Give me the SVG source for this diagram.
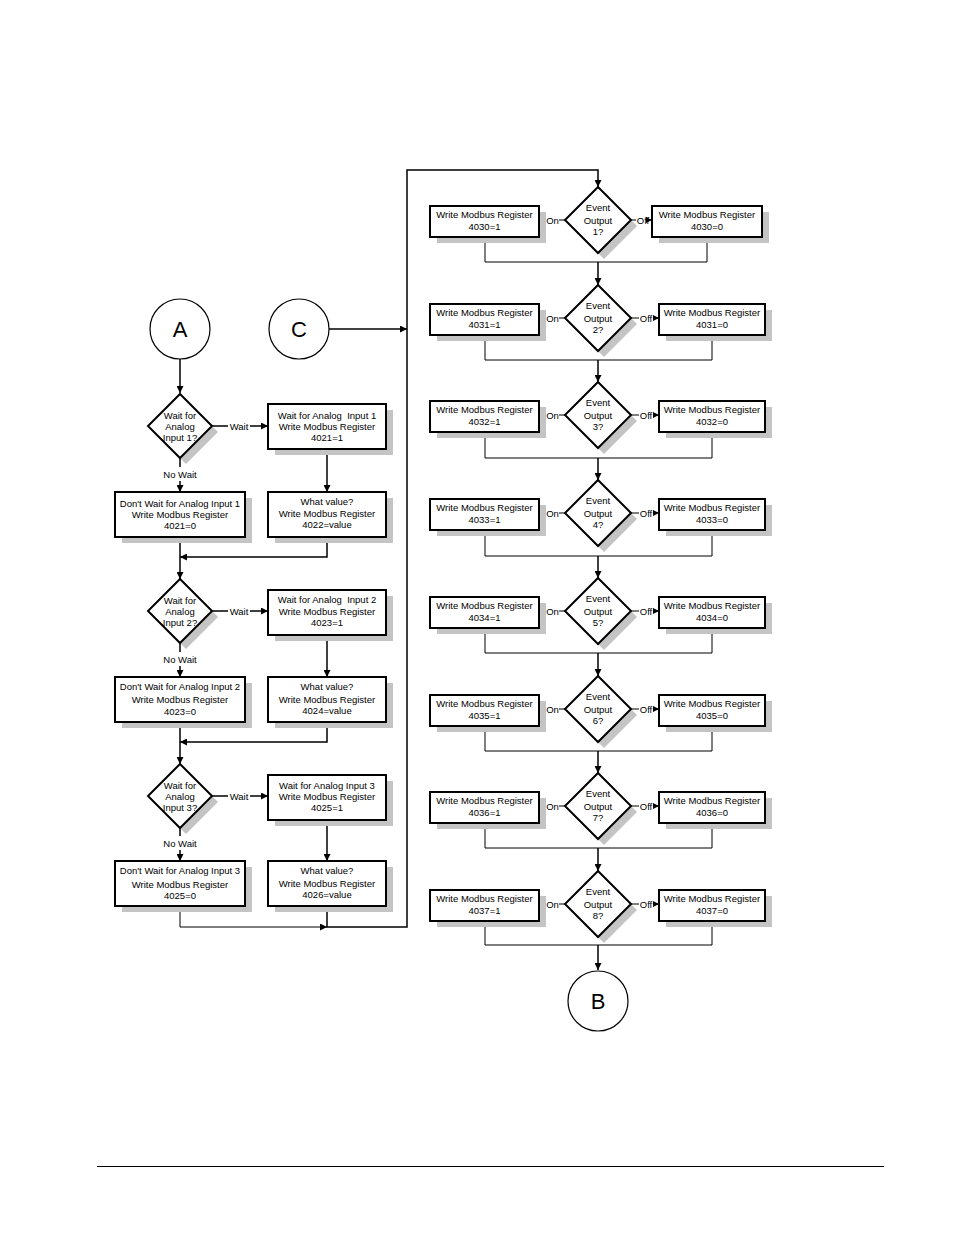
<svg xmlns="http://www.w3.org/2000/svg" width="954" height="1235" viewBox="0 0 954 1235">
<style>
text{font-family:"Liberation Sans",Arial,sans-serif;font-size:9.5px;fill:#000;text-anchor:middle}
.big{font-size:22px}
.lbl{font-size:9.5px}
.box{fill:#fff;stroke:#000;stroke-width:2}
.sh{fill:#c4c4c4;stroke:none}
.circ{fill:#fff;stroke:#000;stroke-width:1.2}
.ln{fill:none;stroke:#000;stroke-width:1.5}
.thin{fill:none;stroke:#000;stroke-width:1}
</style>
<defs>
<marker id="ah" viewBox="0 0 10 10" refX="10" refY="5" markerWidth="7" markerHeight="7" orient="auto" markerUnits="userSpaceOnUse"><path d="M0,0 L10,5 L0,10 z" fill="#000"/></marker>
<marker id="as" viewBox="0 0 10 10" refX="10" refY="5" markerWidth="6" markerHeight="6" orient="auto" markerUnits="userSpaceOnUse"><path d="M0,0 L10,5 L0,10 z" fill="#000"/></marker>
</defs>
<rect width="954" height="1235" fill="#fff"/>

<g id="connectors">
<!-- left column -->
<line class="ln" x1="180" y1="359" x2="180" y2="393" marker-end="url(#ah)"/>
<line class="ln" x1="329" y1="329" x2="407" y2="329" marker-end="url(#ah)"/>
<!-- row 1 -->
<line class="ln" x1="212" y1="426" x2="228" y2="426"/>
<line class="ln" x1="250" y1="426" x2="268" y2="426" marker-end="url(#ah)"/>
<line class="ln" x1="327" y1="449" x2="327" y2="492" marker-end="url(#ah)"/>
<line class="ln" x1="180" y1="458" x2="180" y2="467"/>
<line class="ln" x1="180" y1="481" x2="180" y2="492" marker-end="url(#ah)"/>
<line class="ln" x1="180" y1="537" x2="180" y2="579" marker-end="url(#ah)"/>
<polyline class="ln" points="327,537 327,557 180,557" marker-end="url(#ah)"/>
<!-- row 2 -->
<line class="ln" x1="212" y1="611" x2="228" y2="611"/>
<line class="ln" x1="250" y1="611" x2="268" y2="611" marker-end="url(#ah)"/>
<line class="ln" x1="327" y1="635" x2="327" y2="677" marker-end="url(#ah)"/>
<line class="ln" x1="180" y1="643" x2="180" y2="652"/>
<line class="ln" x1="180" y1="666" x2="180" y2="677" marker-end="url(#ah)"/>
<line class="ln" x1="180" y1="722" x2="180" y2="764" marker-end="url(#ah)"/>
<polyline class="ln" points="327,722 327,742 180,742" marker-end="url(#ah)"/>
<!-- row 3 -->
<line class="ln" x1="212" y1="796" x2="228" y2="796"/>
<line class="ln" x1="250" y1="796" x2="268" y2="796" marker-end="url(#ah)"/>
<line class="ln" x1="327" y1="820" x2="327" y2="861" marker-end="url(#ah)"/>
<line class="ln" x1="180" y1="828" x2="180" y2="836"/>
<line class="ln" x1="180" y1="850" x2="180" y2="861" marker-end="url(#ah)"/>
<polyline class="thin" points="180,906 180,927 327,927" marker-end="url(#ah)"/>
<polyline class="ln" points="327,906 327,927 407,927 407,170 598,170 598,187" marker-end="url(#ah)"/>

<!-- right column: On / Off arrows -->
<g id="r1c">
<line class="thin" x1="565" y1="220" x2="559" y2="220"/>
<line class="thin" x1="546" y1="220" x2="540" y2="220" marker-end="url(#as)"/>
<line class="thin" x1="631" y1="220" x2="636" y2="220"/>
<line class="thin" x1="647" y1="220" x2="652" y2="220" marker-end="url(#as)"/>
<polyline class="thin" points="485,237 485,262 707,262 707,237"/>
<line class="ln" x1="598" y1="262" x2="598" y2="285" marker-end="url(#ah)"/>
</g>
<g id="r2c">
<line class="thin" x1="565" y1="318" x2="559" y2="318"/>
<line class="thin" x1="546" y1="318" x2="540" y2="318" marker-end="url(#as)"/>
<line class="thin" x1="631" y1="318" x2="639" y2="318"/>
<line class="thin" x1="653" y1="318" x2="659" y2="318" marker-end="url(#as)"/>
<polyline class="thin" points="485,335 485,360 712,360 712,335"/>
<line class="ln" x1="598" y1="360" x2="598" y2="382" marker-end="url(#ah)"/>
</g>
<g id="r3c">
<line class="thin" x1="565" y1="415" x2="559" y2="415"/>
<line class="thin" x1="546" y1="415" x2="540" y2="415" marker-end="url(#as)"/>
<line class="thin" x1="631" y1="415" x2="639" y2="415"/>
<line class="thin" x1="653" y1="415" x2="659" y2="415" marker-end="url(#as)"/>
<polyline class="thin" points="485,432 485,458 712,458 712,432"/>
<line class="ln" x1="598" y1="458" x2="598" y2="480" marker-end="url(#ah)"/>
</g>
<g id="r4c">
<line class="thin" x1="565" y1="513" x2="559" y2="513"/>
<line class="thin" x1="546" y1="513" x2="540" y2="513" marker-end="url(#as)"/>
<line class="thin" x1="631" y1="513" x2="639" y2="513"/>
<line class="thin" x1="653" y1="513" x2="659" y2="513" marker-end="url(#as)"/>
<polyline class="thin" points="485,530 485,556 712,556 712,530"/>
<line class="ln" x1="598" y1="556" x2="598" y2="578" marker-end="url(#ah)"/>
</g>
<g id="r5c">
<line class="thin" x1="565" y1="611" x2="559" y2="611"/>
<line class="thin" x1="546" y1="611" x2="540" y2="611" marker-end="url(#as)"/>
<line class="thin" x1="631" y1="611" x2="639" y2="611"/>
<line class="thin" x1="653" y1="611" x2="659" y2="611" marker-end="url(#as)"/>
<polyline class="thin" points="485,628 485,653 712,653 712,628"/>
<line class="ln" x1="598" y1="653" x2="598" y2="676" marker-end="url(#ah)"/>
</g>
<g id="r6c">
<line class="thin" x1="565" y1="709" x2="559" y2="709"/>
<line class="thin" x1="546" y1="709" x2="540" y2="709" marker-end="url(#as)"/>
<line class="thin" x1="631" y1="709" x2="639" y2="709"/>
<line class="thin" x1="653" y1="709" x2="659" y2="709" marker-end="url(#as)"/>
<polyline class="thin" points="485,726 485,751 712,751 712,726"/>
<line class="ln" x1="598" y1="751" x2="598" y2="773" marker-end="url(#ah)"/>
</g>
<g id="r7c">
<line class="thin" x1="565" y1="806" x2="559" y2="806"/>
<line class="thin" x1="546" y1="806" x2="540" y2="806" marker-end="url(#as)"/>
<line class="thin" x1="631" y1="806" x2="639" y2="806"/>
<line class="thin" x1="653" y1="806" x2="659" y2="806" marker-end="url(#as)"/>
<polyline class="thin" points="485,823 485,848 712,848 712,823"/>
<line class="ln" x1="598" y1="848" x2="598" y2="871" marker-end="url(#ah)"/>
</g>
<g id="r8c">
<line class="thin" x1="565" y1="904" x2="559" y2="904"/>
<line class="thin" x1="546" y1="904" x2="540" y2="904" marker-end="url(#as)"/>
<line class="thin" x1="631" y1="904" x2="639" y2="904"/>
<line class="thin" x1="653" y1="904" x2="659" y2="904" marker-end="url(#as)"/>
<polyline class="thin" points="485,921 485,945 712,945 712,921"/>
<line class="ln" x1="598" y1="945" x2="598" y2="970" marker-end="url(#ah)"/>
</g>

<!-- labels -->
<text x="239" y="429.5">Wait</text>
<text x="239" y="614.5">Wait</text>
<text x="239" y="799.5">Wait</text>
<text x="180" y="477.5">No Wait</text>
<text x="180" y="662.5">No Wait</text>
<text x="180" y="846.5">No Wait</text>
<text x="552.5" y="223.5">On</text>
<text x="643" y="223.5">Off</text>
<text x="552.5" y="321.5">On</text>
<text x="646" y="321.5">Off</text>
<text x="552.5" y="418.5">On</text>
<text x="646" y="418.5">Off</text>
<text x="552.5" y="516.5">On</text>
<text x="646" y="516.5">Off</text>
<text x="552.5" y="614.5">On</text>
<text x="646" y="614.5">Off</text>
<text x="552.5" y="712.5">On</text>
<text x="646" y="712.5">Off</text>
<text x="552.5" y="809.5">On</text>
<text x="646" y="809.5">Off</text>
<text x="552.5" y="907.5">On</text>
<text x="646" y="907.5">Off</text>
</g>

<!-- terminals -->
<g id="nodeA"><circle class="circ" cx="180" cy="329" r="30"/><text class="big" x="180" y="337">A</text></g>
<g id="nodeC"><circle class="circ" cx="299" cy="329" r="30"/><text class="big" x="299" y="337">C</text></g>
<g id="nodeB"><circle class="circ" cx="598" cy="1001" r="30"/><text class="big" x="598" y="1009">B</text></g>

<!-- left column -->
<g id="dA1"><polygon class="sh" points="186,400 218,432 186,464 154,432"/><polygon class="box" points="180,394 212,426 180,458 148,426"/>
<text x="180" y="418.5">Wait for</text><text x="180" y="429.5">Analog</text><text x="180" y="440.5">Input 1?</text></g>
<g id="bW1"><rect class="sh" x="275" y="410" width="118" height="45"/><rect class="box" x="268" y="404" width="118" height="45"/>
<text x="327" y="418.5">Wait for Analog&#160; Input 1</text><text x="327" y="429.5">Write Modbus Register</text><text x="327" y="440.5">4021=1</text></g>
<g id="bV1"><rect class="sh" x="275" y="498" width="118" height="45"/><rect class="box" x="268" y="492" width="118" height="45"/>
<text x="327" y="504.5">What value?</text><text x="327" y="516.5">Write Modbus Register</text><text x="327" y="527.5">4022=value</text></g>
<g id="bD1"><rect class="sh" x="122" y="498" width="130" height="45"/><rect class="box" x="115" y="492" width="130" height="45"/>
<text x="180" y="506.5">Don't Wait for Analog Input 1</text><text x="180" y="517.5">Write Modbus Register</text><text x="180" y="528.5">4021=0</text></g>

<g id="dA2"><polygon class="sh" points="186,585 218,617 186,649 154,617"/><polygon class="box" points="180,579 212,611 180,643 148,611"/>
<text x="180" y="603.5">Wait for</text><text x="180" y="614.5">Analog</text><text x="180" y="625.5">Input 2?</text></g>
<g id="bW2"><rect class="sh" x="275" y="596" width="118" height="45"/><rect class="box" x="268" y="590" width="118" height="45"/>
<text x="327" y="602.5">Wait for Analog&#160; Input 2</text><text x="327" y="614.5">Write Modbus Register</text><text x="327" y="625.5">4023=1</text></g>
<g id="bV2"><rect class="sh" x="275" y="683" width="118" height="45"/><rect class="box" x="268" y="677" width="118" height="45"/>
<text x="327" y="689.5">What value?</text><text x="327" y="702.5">Write Modbus Register</text><text x="327" y="713.5">4024=value</text></g>
<g id="bD2"><rect class="sh" x="122" y="683" width="130" height="45"/><rect class="box" x="115" y="677" width="130" height="45"/>
<text x="180" y="689.5">Don't Wait for Analog Input 2</text><text x="180" y="702.5">Write Modbus Register</text><text x="180" y="714.5">4023=0</text></g>

<g id="dA3"><polygon class="sh" points="186,770 218,802 186,834 154,802"/><polygon class="box" points="180,764 212,796 180,828 148,796"/>
<text x="180" y="788.5">Wait for</text><text x="180" y="799.5">Analog</text><text x="180" y="810.5">Input 3?</text></g>
<g id="bW3"><rect class="sh" x="275" y="781" width="118" height="45"/><rect class="box" x="268" y="775" width="118" height="45"/>
<text x="327" y="788.5">Wait for Analog Input 3</text><text x="327" y="799.5">Write Modbus Register</text><text x="327" y="810.5">4025=1</text></g>
<g id="bV3"><rect class="sh" x="275" y="867" width="118" height="45"/><rect class="box" x="268" y="861" width="118" height="45"/>
<text x="327" y="873.5">What value?</text><text x="327" y="886.5">Write Modbus Register</text><text x="327" y="897.5">4026=value</text></g>
<g id="bD3"><rect class="sh" x="122" y="867" width="130" height="45"/><rect class="box" x="115" y="861" width="130" height="45"/>
<text x="180" y="873.5">Don't Wait for Analog Input 3</text><text x="180" y="887.5">Write Modbus Register</text><text x="180" y="898.5">4025=0</text></g>

<!-- right column -->
<g id="row1">
<g id="dE1"><polygon class="sh" points="604,193 637,226 604,259 571,226"/><polygon class="box" points="598,187 631,220 598,253 565,220"/>
<text x="598" y="211">Event</text><text x="598" y="223.5">Output</text><text x="598" y="234.5">1?</text></g>
<g id="bOn1"><rect class="sh" x="437" y="212" width="109" height="31"/><rect class="box" x="430" y="206" width="109" height="31"/>
<text x="484.5" y="217.5">Write Modbus Register</text><text x="484.5" y="229.5">4030=1</text></g>
<g id="bOff1"><rect class="sh" x="659" y="212" width="110" height="31"/><rect class="box" x="652" y="206" width="110" height="31"/>
<text x="707" y="217.5">Write Modbus Register</text><text x="707" y="229.5">4030=0</text></g>
</g>
<g id="row2">
<g id="dE2"><polygon class="sh" points="604,291 637,324 604,357 571,324"/><polygon class="box" points="598,285 631,318 598,351 565,318"/>
<text x="598" y="309">Event</text><text x="598" y="321.5">Output</text><text x="598" y="332.5">2?</text></g>
<g id="bOn2"><rect class="sh" x="437" y="310" width="109" height="31"/><rect class="box" x="430" y="304" width="109" height="31"/>
<text x="484.5" y="315.5">Write Modbus Register</text><text x="484.5" y="327.5">4031=1</text></g>
<g id="bOff2"><rect class="sh" x="666" y="310" width="106" height="31"/><rect class="box" x="659" y="304" width="106" height="31"/>
<text x="712" y="315.5">Write Modbus Register</text><text x="712" y="327.5">4031=0</text></g>
</g>
<g id="row3">
<g id="dE3"><polygon class="sh" points="604,388 637,421 604,454 571,421"/><polygon class="box" points="598,382 631,415 598,448 565,415"/>
<text x="598" y="406">Event</text><text x="598" y="418.5">Output</text><text x="598" y="429.5">3?</text></g>
<g id="bOn3"><rect class="sh" x="437" y="407" width="109" height="31"/><rect class="box" x="430" y="401" width="109" height="31"/>
<text x="484.5" y="412.5">Write Modbus Register</text><text x="484.5" y="424.5">4032=1</text></g>
<g id="bOff3"><rect class="sh" x="666" y="407" width="106" height="31"/><rect class="box" x="659" y="401" width="106" height="31"/>
<text x="712" y="412.5">Write Modbus Register</text><text x="712" y="424.5">4032=0</text></g>
</g>
<g id="row4">
<g id="dE4"><polygon class="sh" points="604,486 637,519 604,552 571,519"/><polygon class="box" points="598,480 631,513 598,546 565,513"/>
<text x="598" y="504">Event</text><text x="598" y="516.5">Output</text><text x="598" y="527.5">4?</text></g>
<g id="bOn4"><rect class="sh" x="437" y="505" width="109" height="31"/><rect class="box" x="430" y="499" width="109" height="31"/>
<text x="484.5" y="510.5">Write Modbus Register</text><text x="484.5" y="522.5">4033=1</text></g>
<g id="bOff4"><rect class="sh" x="666" y="505" width="106" height="31"/><rect class="box" x="659" y="499" width="106" height="31"/>
<text x="712" y="510.5">Write Modbus Register</text><text x="712" y="522.5">4033=0</text></g>
</g>
<g id="row5">
<g id="dE5"><polygon class="sh" points="604,584 637,617 604,650 571,617"/><polygon class="box" points="598,578 631,611 598,644 565,611"/>
<text x="598" y="602">Event</text><text x="598" y="614.5">Output</text><text x="598" y="625.5">5?</text></g>
<g id="bOn5"><rect class="sh" x="437" y="603" width="109" height="31"/><rect class="box" x="430" y="597" width="109" height="31"/>
<text x="484.5" y="608.5">Write Modbus Register</text><text x="484.5" y="620.5">4034=1</text></g>
<g id="bOff5"><rect class="sh" x="666" y="603" width="106" height="31"/><rect class="box" x="659" y="597" width="106" height="31"/>
<text x="712" y="608.5">Write Modbus Register</text><text x="712" y="620.5">4034=0</text></g>
</g>
<g id="row6">
<g id="dE6"><polygon class="sh" points="604,682 637,715 604,748 571,715"/><polygon class="box" points="598,676 631,709 598,742 565,709"/>
<text x="598" y="700">Event</text><text x="598" y="712.5">Output</text><text x="598" y="723.5">6?</text></g>
<g id="bOn6"><rect class="sh" x="437" y="701" width="109" height="31"/><rect class="box" x="430" y="695" width="109" height="31"/>
<text x="484.5" y="706.5">Write Modbus Register</text><text x="484.5" y="718.5">4035=1</text></g>
<g id="bOff6"><rect class="sh" x="666" y="701" width="106" height="31"/><rect class="box" x="659" y="695" width="106" height="31"/>
<text x="712" y="706.5">Write Modbus Register</text><text x="712" y="718.5">4035=0</text></g>
</g>
<g id="row7">
<g id="dE7"><polygon class="sh" points="604,779 637,812 604,845 571,812"/><polygon class="box" points="598,773 631,806 598,839 565,806"/>
<text x="598" y="797">Event</text><text x="598" y="809.5">Output</text><text x="598" y="820.5">7?</text></g>
<g id="bOn7"><rect class="sh" x="437" y="798" width="109" height="31"/><rect class="box" x="430" y="792" width="109" height="31"/>
<text x="484.5" y="803.5">Write Modbus Register</text><text x="484.5" y="815.5">4036=1</text></g>
<g id="bOff7"><rect class="sh" x="666" y="798" width="106" height="31"/><rect class="box" x="659" y="792" width="106" height="31"/>
<text x="712" y="803.5">Write Modbus Register</text><text x="712" y="815.5">4036=0</text></g>
</g>
<g id="row8">
<g id="dE8"><polygon class="sh" points="604,877 637,910 604,943 571,910"/><polygon class="box" points="598,871 631,904 598,937 565,904"/>
<text x="598" y="895">Event</text><text x="598" y="907.5">Output</text><text x="598" y="918.5">8?</text></g>
<g id="bOn8"><rect class="sh" x="437" y="896" width="109" height="31"/><rect class="box" x="430" y="890" width="109" height="31"/>
<text x="484.5" y="901.5">Write Modbus Register</text><text x="484.5" y="913.5">4037=1</text></g>
<g id="bOff8"><rect class="sh" x="666" y="896" width="106" height="31"/><rect class="box" x="659" y="890" width="106" height="31"/>
<text x="712" y="901.5">Write Modbus Register</text><text x="712" y="913.5">4037=0</text></g>
</g>

<line x1="97" y1="1166.5" x2="884" y2="1166.5" stroke="#000" stroke-width="1"/>
</svg>
